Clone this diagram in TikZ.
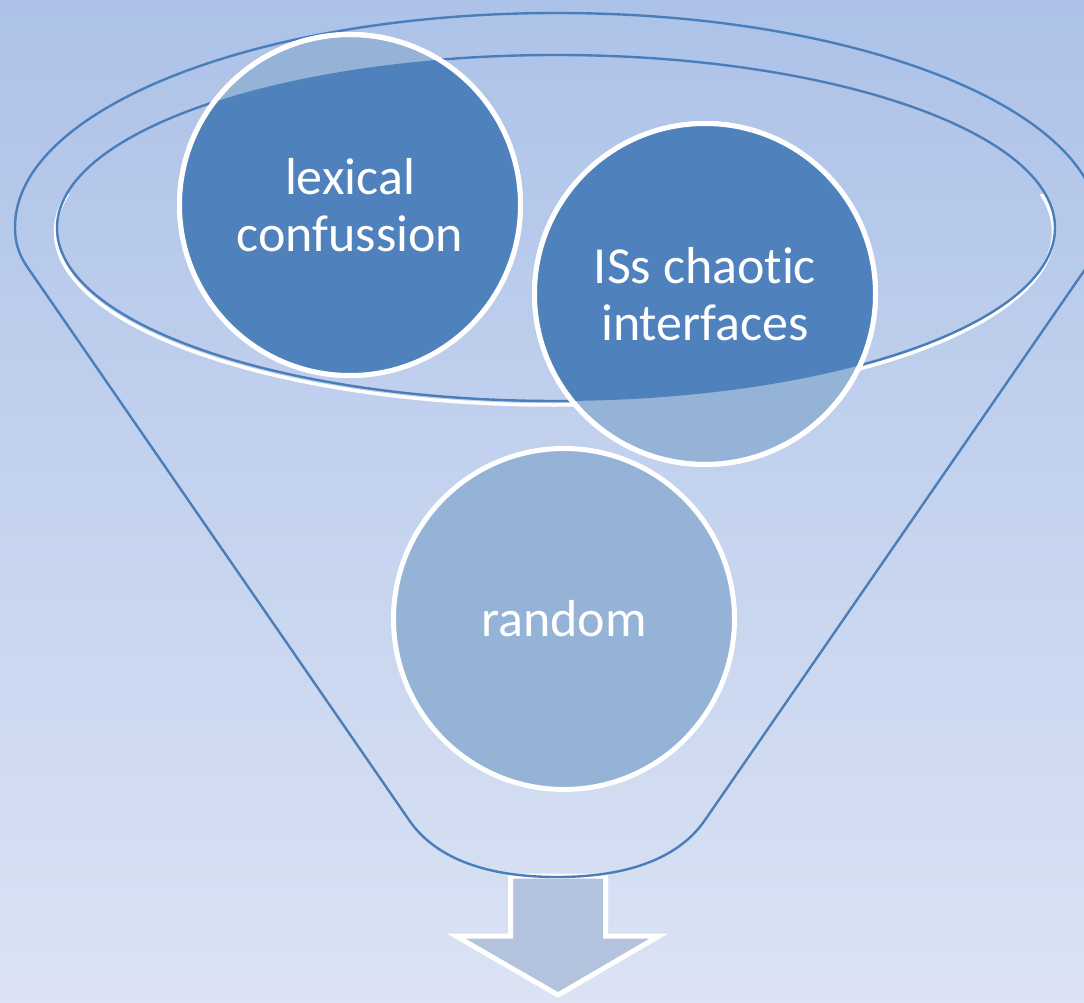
\documentclass[tikz,border=0pt]{standalone}
\usepackage{fontspec}
\setmainfont{Carlito}[Ligatures=NoCommon]
\definecolor{bgtop}{HTML}{ADC2E8}
\definecolor{bgbot}{HTML}{DBE3F4}
\definecolor{darkdisc}{HTML}{4F81BD}
\definecolor{lightdisc}{HTML}{95B3D7}
\definecolor{arrowfill}{HTML}{B3C2DD}
\definecolor{rim}{HTML}{4A7EBB}
\begin{document}
\begin{tikzpicture}[x=1pt,y=-1pt,
  rimline/.style={draw=rim, line width=2.4pt},
  disc/.style={circle, minimum size=341pt, inner sep=0pt, fill=lightdisc, draw=white, line width=5pt},
  disctext/.style={text=white, align=center, font=\fontsize{52}{57}\selectfont},
]
\useasboundingbox (0,0) rectangle (1084,1003);
\fill[top color=bgtop,bottom color=bgbot] (0,0) rectangle (1084,1003);

% output arrow
\filldraw[fill=arrowfill, draw=white, line width=5pt, line join=miter]
  (510.5,876) -- (605.5,876) -- (605.5,936) -- (659,936) -- (558,995) -- (456,936) -- (510.5,936) -- cycle;

% funnel outline
\draw[rimline] (409,820) -- (28,268) .. controls (17,252) and (15,240) .. (15,227)
  arc[start angle=180, end angle=360, x radius=542, y radius=214]
  .. controls (1099,240) and (1097,252) .. (1086,268) -- (705,820)
  .. controls (681,855) and (634,877) .. (557,877)
  .. controls (480,877) and (433,855) .. (409,820) -- cycle;

% inner rim with its white shadow (lower part only)
\begin{scope}
  \clip (0,195) rectangle (1084,1003);
  \draw[white, line width=3.5pt] (554.5,232) ellipse [x radius=499, y radius=173];
\end{scope}
\draw[rimline] (556,228) ellipse [x radius=499, y radius=173];

% discs
\node[disc] (lex) at (350,205) {};
\node[disc] (iss) at (705,294) {};
\node[disc] (rnd) at (564,619) {};

\begin{scope}
  \clip (556,228) ellipse [x radius=499, y radius=173];
  \fill[darkdisc] (lex.center) circle [radius=170.5];
  \fill[darkdisc] (iss.center) circle [radius=170.5];
\end{scope}
\draw[white, line width=5pt] (lex.center) circle [radius=170.5];
\draw[white, line width=5pt] (iss.center) circle [radius=170.5];

\node[disctext] (lext) at (lex.center) {lexical\\confussion};
\node[disctext] (isst) at (iss.center) {ISs chaotic\\interfaces};
\node[disctext] (rndt) at (rnd.center) {random};
\end{tikzpicture}
\end{document}
